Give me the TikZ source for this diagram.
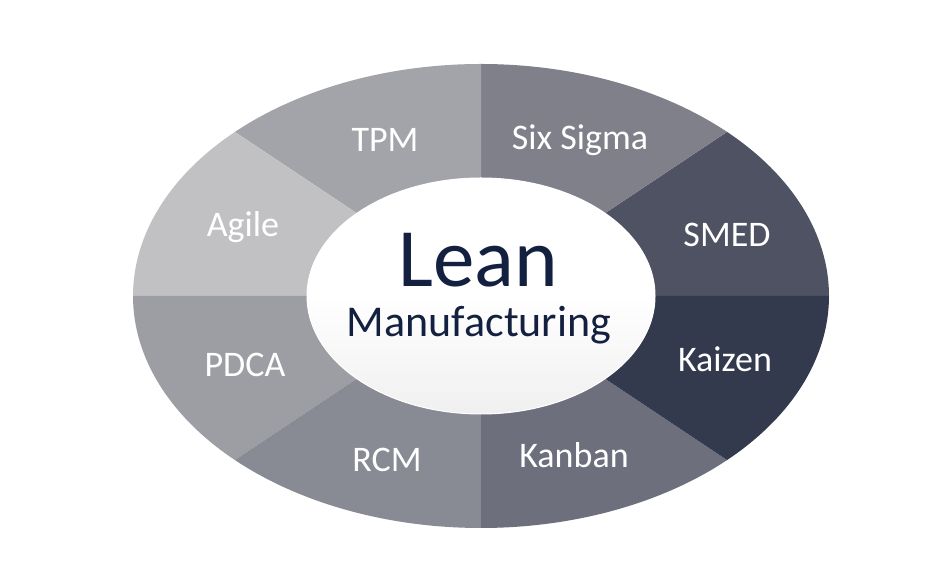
\documentclass[tikz,border=0pt]{standalone}
\usepackage{fontspec}
\setmainfont{Carlito}
\definecolor{cAgile}{HTML}{C1C1C3}
\definecolor{cTPM}{HTML}{A3A4A9}
\definecolor{cSix}{HTML}{7F808A}
\definecolor{cSMED}{HTML}{4F5262}
\definecolor{cKaizen}{HTML}{343A4E}
\definecolor{cKanban}{HTML}{6D6F7C}
\definecolor{cRCM}{HTML}{888A94}
\definecolor{cPDCA}{HTML}{9D9EA4}
\definecolor{navy}{HTML}{13203F}
\tikzset{
  seclabel/.style={text=white, font=\fontsize{36}{36}\selectfont, anchor=base, inner sep=0pt},
}
\newcommand{\sector}[3]{%
  \fill[#3] (481,284) -- ++({348*cos(#1)},{232*sin(#1)})
    arc[start angle=#1, end angle=#2, x radius=348, y radius=232] -- cycle;}
\begin{document}
\begin{tikzpicture}[x=1pt,y=1pt]
\useasboundingbox (0,0) rectangle (950,580);
\fill[white] (0,0) rectangle (950,580);
\sector{0}{45}{cSMED}
\sector{45}{90}{cSix}
\sector{90}{135}{cTPM}
\sector{135}{180}{cAgile}
\sector{180}{225}{cPDCA}
\sector{225}{270}{cRCM}
\sector{270}{315}{cKanban}
\sector{315}{360}{cKaizen}
\shade[top color=white, bottom color=black!6, middle color=white] (481,284) ellipse [x radius=174, y radius=118];
\draw[white, line width=1pt] (481,284) ellipse [x radius=174, y radius=118];
\node[seclabel] (tpm) at (385,428) {TPM};
\node[seclabel] (six) at (580,430) {Six Sigma};
\node[seclabel] (smed) at (727,333) {SMED};
\node[seclabel] (agile) at (243,343) {Agile};
\node[seclabel] (pdca) at (245,203) {PDCA};
\node[seclabel] (rcm) at (387,108) {RCM};
\node[seclabel] (kanban) at (574,112) {Kanban};
\node[seclabel] (kaizen) at (725,208) {Kaizen};
\node[text=navy, font=\fontsize{83}{83}\selectfont, anchor=base, inner sep=0pt] (lean) at (478,293) {Lean};
\node[text=navy, font=\fontsize{44}{44}\selectfont, anchor=base, inner sep=0pt] (manu) at (479,243) {Manufacturing};
\end{tikzpicture}
\end{document}
